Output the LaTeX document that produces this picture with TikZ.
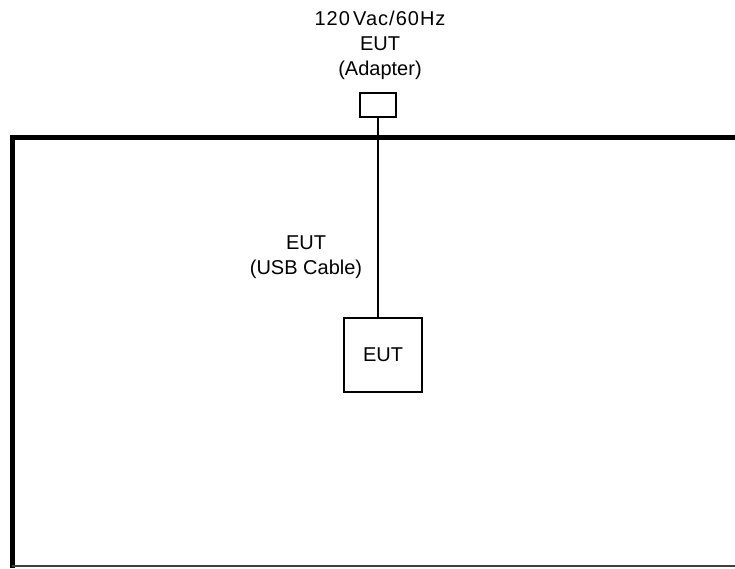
\documentclass[tikz,border=0pt]{standalone}
\usepackage{fontspec}
\setmainfont{Liberation Sans}
\tikzset{
    unitbox/.style={draw, line width=1.6pt, inner sep=0pt},
    cable/.style={line width=1.6pt},
}
\begin{document}
\begin{tikzpicture}[x=1pt, y=-1pt, font=\fontsize{20}{25}\selectfont]
    \useasboundingbox (0,0) rectangle (735,568);

    % test room
    \draw[line width=5pt] (12,568) -- (12,137) -- (735,137);
    \draw[line width=1.8pt, black!75] (12,566) -- (735,566);

    % units
    \node[unitbox, minimum width=36pt, minimum height=24pt] (adapter) at (378,105) {};
    \node[unitbox, minimum width=78pt, minimum height=74pt] (eut) at (383,355) {EUT};
    \draw[cable] (adapter.south) -- (adapter.south |- eut.north);

    % labels
    \node[align=center] (power) at (380,45) {{\addfontfeature{LetterSpace=5}120\,Vac/60Hz}\\EUT\\(Adapter)};
    \node[align=center] (usb) at (306,257) {EUT\\(USB Cable)};
\end{tikzpicture}
\end{document}
